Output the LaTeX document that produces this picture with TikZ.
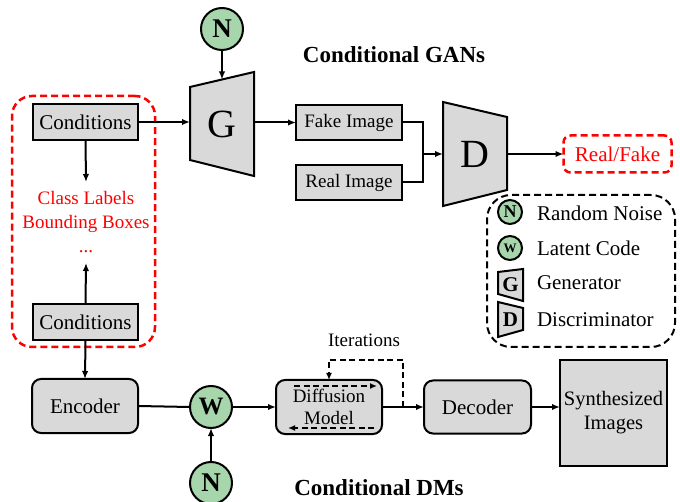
\documentclass[tikz,border=0pt]{standalone}
\usepackage{fontspec}
\setmainfont{Liberation Serif}
\usetikzlibrary{arrows.meta,backgrounds,calc}
\definecolor{boxgray}{RGB}{217,217,217}
\definecolor{mint}{RGB}{168,214,172}
\definecolor{alertred}{RGB}{255,0,0}
\newcommand\fsz[2]{\fontsize{#1pt}{#2pt}\selectfont}

\begin{document}
\begin{tikzpicture}[x=1pt,y=-1pt,
  every node/.style={inner sep=0pt,outer sep=0pt},
  box/.style={draw,line width=2pt,fill=boxgray,align=center},
  rbox/.style={box,rounded corners=9pt},
  circ/.style={circle,draw,line width=2pt,fill=mint,font=\bfseries},
  trap/.style={draw,line width=2pt,fill=boxgray,line join=miter},
  arr/.style={line width=2pt,-{Latex[length=8pt,width=6.5pt]}},
  conn/.style={line width=2pt},
  loopdash/.style={line width=2pt,dash pattern=on 6pt off 3.5pt},
  reddash/.style={draw=alertred,line width=2.5pt,dash pattern=on 7pt off 4pt},
  legdash/.style={draw,line width=2pt,dash pattern=on 7pt off 4pt},
  legtext/.style={anchor=west,font=\fsz{21}{25}},
  title/.style={font=\fsz{23}{27}\bfseries}
]
\useasboundingbox (0,0) rectangle (680,502);

% ---------- Conditional GANs ----------
\node[title] (gantitle) at (394,55) {Conditional GANs};

\node[reddash,rounded corners=20pt,minimum width=143,minimum height=251] (condgroup) at (83.5,221.5) {};

\node[box,minimum width=105,minimum height=36,font=\fsz{21}{25}] (cond1) at (85.5,122) {Conditions};
\node[align=center,text=alertred,font=\fsz{19}{24}] (labels) at (86,222) {Class Labels\\Bounding Boxes\\...};
\node[box,minimum width=105,minimum height=36,font=\fsz{21}{25}] (cond2) at (85.5,322) {Conditions};
\coordinate (labtop) at (86,182);
\coordinate (labbot) at (86,263);

\node[circ,minimum size=42,font=\fsz{27}{30}\bfseries] (Ntop) at (222,29) {N};
\node[minimum width=64,minimum height=104,font=\fsz{40}{44}] (G) at (222,124) {G};
\node[box,minimum width=106,minimum height=35,font=\fsz{19}{22}] (fake) at (349,122.5) {Fake Image};
\node[box,minimum width=106,minimum height=35,font=\fsz{19}{22}] (real) at (349,182.5) {Real Image};
\coordinate (join) at (423,154);
\node[minimum width=64,minimum height=104,font=\fsz{40}{44}] (D) at (475,154) {D};
\node[reddash,rounded corners=7pt,minimum width=108,minimum height=37,text=alertred,font=\fsz{21}{25}] (rf) at (617.5,154) {Real/Fake};

\begin{scope}[on background layer]
  \draw[trap] ([yshift=-15pt]G.north west) -- (G.north east) -- (G.south east) -- ([yshift=16pt]G.south west) -- cycle;
  \draw[trap] (D.north west) -- ([yshift=-15pt]D.north east) -- ([yshift=16pt]D.south east) -- (D.south west) -- cycle;
\end{scope}
\coordinate (Gtop) at ($([yshift=-15pt]G.north west)!0.5!(G.north east)$);

\draw[arr] (Ntop.south) -- (Gtop);
\draw[arr] (cond1.east) -- (cond1.east -| G.west);
\draw[arr] (cond1.south) -- (labtop);
\draw[arr] (cond2.north) -- (labbot);
\draw[arr] (fake.west -| G.east) -- (fake.west);
\draw[conn] (fake.east) -| (join);
\draw[conn] (real.east) -| (join);
\draw[arr] (join) -- (D.west);
\draw[arr] (D.east) -- (rf.west);

% ---------- Legend ----------
\node[legdash,rounded corners=24pt,minimum width=188,minimum height=152] (legend) at (581,271) {};
\node[circ,minimum size=24,font=\fsz{18}{20}\bfseries] (lN) at (510,212) {N};
\node[circ,minimum size=24,font=\fsz{13}{15}\bfseries] (lW) at (510,248) {W};
\node[minimum width=25,minimum height=32,font=\fsz{21}{24}\bfseries] (lG) at (510.5,285) {G};
\node[minimum width=25,minimum height=35,font=\fsz{21}{24}\bfseries] (lD) at (510.5,319.5) {D};
\begin{scope}[on background layer]
  \draw[trap] ([yshift=-3pt]lG.north west) -- (lG.north east) -- (lG.south east) -- ([yshift=7pt]lG.south west) -- cycle;
  \draw[trap] (lD.north west) -- ([yshift=-6pt]lD.north east) -- ([yshift=7pt]lD.south east) -- (lD.south west) -- cycle;
\end{scope}
\node[legtext] (tN) at (537,213) {Random Noise};
\node[legtext] (tW) at (537,248) {Latent Code};
\node[legtext] (tG) at (537,283) {Generator};
\node[legtext] (tD) at (537,320) {Discriminator};

% ---------- Conditional DMs ----------
\node[rbox,minimum width=106,minimum height=54,font=\fsz{21}{25}] (enc) at (85,406) {Encoder};
\node[circ,minimum size=42,font=\fsz{25}{28}\bfseries] (W) at (211,407) {W};
\node[circ,minimum size=42,font=\fsz{27}{30}\bfseries] (Nbot) at (211,483) {N};
\node[rbox,minimum width=106,minimum height=54,font=\fsz{19}{22}] (diff) at (329,407) {Diffusion\\Model};
\node[rbox,minimum width=107,minimum height=53,font=\fsz{21}{25}] (dec) at (477.5,407) {Decoder};
\node[box,minimum width=107,minimum height=106,font=\fsz{20.5}{24}] (syn) at (613.5,413) {Synthesized\\Images};
\node[font=\fsz{19}{22}] (iter) at (364,340) {Iterations};
\node[title] (dmtitle) at (379,488) {Conditional DMs};

\coordinate (itstart) at (403,407);
\coordinate (looptop) at (364,360);

\draw[conn] (enc.east) -- (W.west);
\draw[arr] (Nbot.north) -- (W.south);
\draw[arr] (W.east) -- (diff.west);
\draw[arr] (diff.east) -- (dec.west);
\draw[arr] (dec.east) -- (dec.east -| syn.west);
\draw[arr] (cond2.south) -- (enc.north);
\draw[loopdash,-{Latex[length=7pt,width=6pt]}] (itstart) |- (looptop) -| (diff.north);
\draw[loopdash,-{Latex[length=7pt,width=6pt]}] ($(diff.north west)+(18,6)$) -- ($(diff.north east)+(-5,6)$);
\draw[loopdash,-{Latex[length=7pt,width=6pt]}] ($(diff.south east)+(-8,-6)$) -- ($(diff.south west)+(12,-6)$);
\end{tikzpicture}
\end{document}
